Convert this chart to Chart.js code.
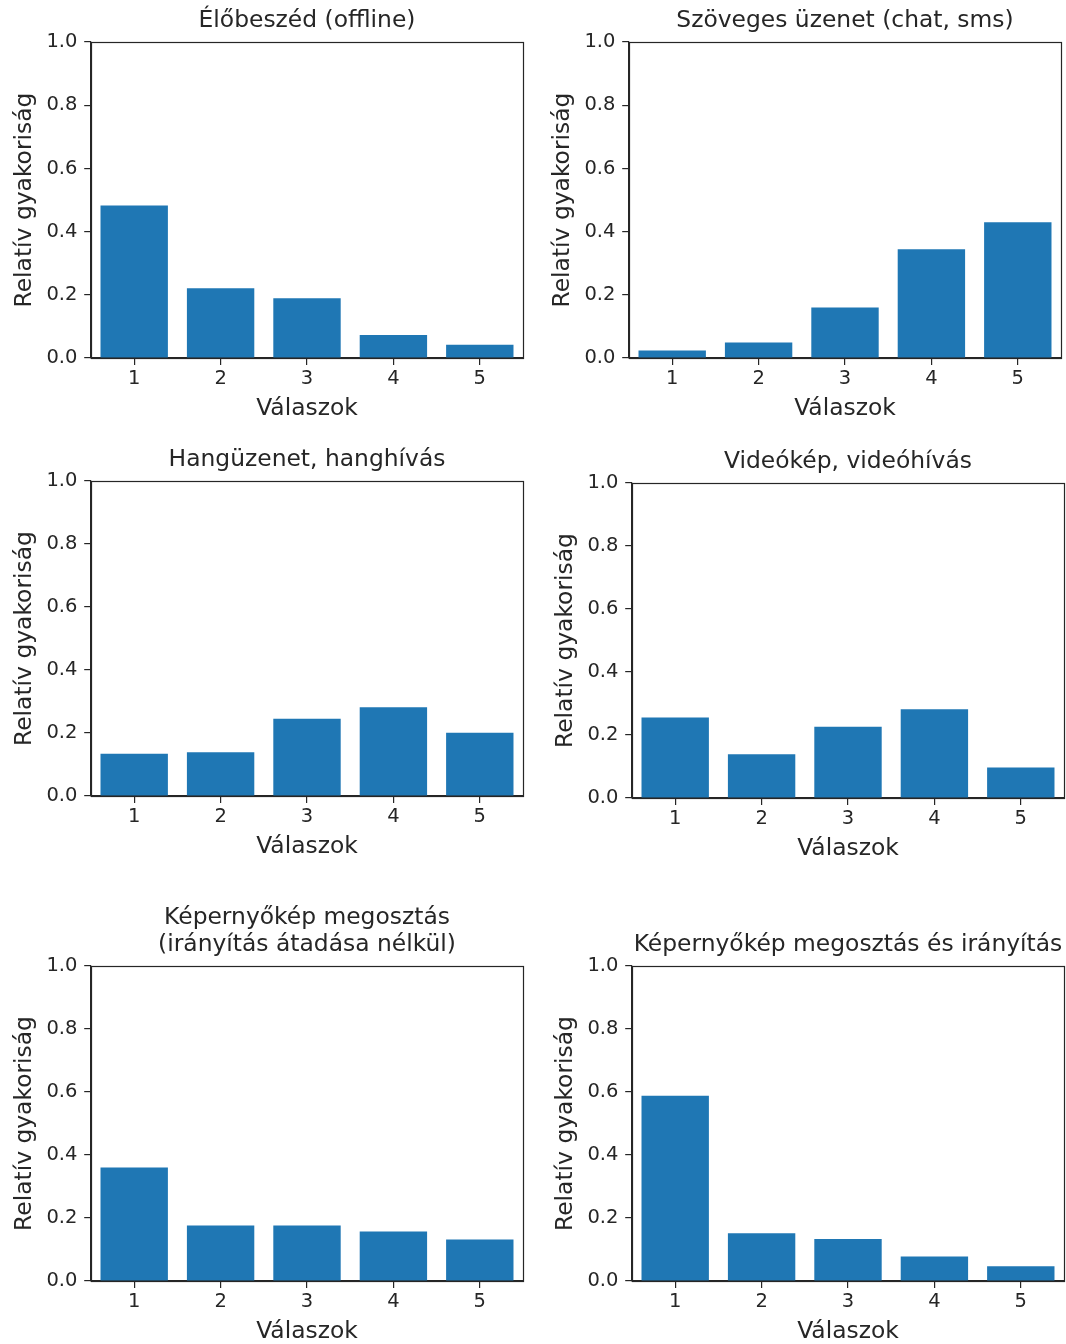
<!DOCTYPE html>
<html>
<head>
<meta charset="utf-8">
<script src="https://cdn.jsdelivr.net/npm/chart.js@4.4.1/dist/chart.umd.min.js"></script>
<style>
  html, body { margin: 0; padding: 0; background: #fff; overflow: hidden; }
  body { width: 1066px; height: 1344px; position: relative; }
  canvas { position: absolute; }
</style>
</head>
<body>
<script>
// Válaszok (1-5) és relatív gyakoriságok panelenként
const answers = ['1', '2', '3', '4', '5'];
const yTicks = [0, 0.2, 0.4, 0.6, 0.8, 1.0];

const elobeszed = [0.483, 0.221, 0.189, 0.073, 0.042];
const szoveges = [0.024, 0.049, 0.160, 0.344, 0.430];
const hanguzenet = [0.134, 0.139, 0.245, 0.282, 0.201];
const videokep = [0.256, 0.139, 0.226, 0.282, 0.097];
const kepernyoMegosztas = [0.360, 0.176, 0.176, 0.157, 0.132];
const kepernyoIranyitas = [0.588, 0.152, 0.133, 0.078, 0.047];

const titles = [
    'Élőbeszéd (offline)',
    'Szöveges üzenet (chat, sms)',
    'Hangüzenet, hanghívás',
    'Videókép, videóhívás',
    ['Képernyőkép megosztás', '(irányítás átadása nélkül)'],
    'Képernyőkép megosztás és irányítás'
];
const xLabel = 'Válaszok';
const yLabel = 'Relatív gyakoriság';

const BLUE = '#1f77b4';
const INK = '#262626';
const FONT = 'DejaVu Sans';
const BIG = 23.4;   // cím, tengelyfeliratok
const SMALL = 19.5; // osztásfeliratok

// plot area of each subplot (left, top, height); width is 432 everywhere
const layout = [
    { L: 91, T: 42, H: 316, data: elobeszed },
    { L: 629, T: 42, H: 316, data: szoveges },
    { L: 91, T: 481, H: 315, data: hanguzenet },
    { L: 632, T: 483, H: 315, data: videokep },
    { L: 91, T: 966, H: 315, data: kepernyoMegosztas },
    { L: 632, T: 966, H: 315, data: kepernyoIranyitas }
];

// keret az ábra körül (matplotlib spines)
const frame = {
    id: 'frame',
    afterDraw(chart) {
        const a = chart.chartArea;
        const ctx = chart.ctx;
        ctx.save();
        ctx.strokeStyle = INK;
        ctx.lineWidth = 1.2;
        ctx.strokeRect(Math.round(a.left) + 0.5, Math.round(a.top) + 0.5,
            Math.round(a.right - a.left), Math.round(a.bottom - a.top));
        ctx.restore();
    }
};

layout.forEach((p, i) => {
    const twoLines = Array.isArray(titles[i]);
    const topH = twoLines ? 80 : 50;
    const W = 432;
    const canvas = document.createElement('canvas');
    canvas.width = 91 + W + 6;
    canvas.height = topH + p.H + 70;
    canvas.style.left = (p.L - 91) + 'px';
    canvas.style.top = (p.T - topH) + 'px';
    document.body.appendChild(canvas);

    new Chart(canvas, {
        type: 'bar',
        data: {
            labels: answers,
            datasets: [{
                data: p.data,
                backgroundColor: BLUE,
                borderWidth: 0,
                categoryPercentage: 1,
                barPercentage: 0.78
            }]
        },
        options: {
            responsive: false,
            animation: false,
            events: [],
            layout: { padding: { left: 0, right: 6, top: 0, bottom: 0 } },
            plugins: {
                legend: { display: false },
                tooltip: { enabled: false },
                title: {
                    display: true,
                    text: titles[i],
                    fullSize: false,
                    color: INK,
                    font: { family: FONT, size: BIG, weight: 'normal', lineHeight: twoLines ? 1.15 : 1.2 },
                    padding: twoLines ? { top: 18.6, bottom: 7.6 } : { top: 15, bottom: 7 }
                }
            },
            scales: {
                x: {
                    type: 'category',
                    offset: true,
                    grid: { display: true, drawOnChartArea: false, offset: false, tickLength: 7, color: INK, lineWidth: 1.2 },
                    border: { display: true, color: INK, width: 1.2 },
                    ticks: { color: INK, padding: 2.3, maxRotation: 0, font: { family: FONT, size: SMALL } },
                    title: {
                        display: true, text: xLabel, color: INK,
                        font: { family: FONT, size: BIG, lineHeight: 1.2 },
                        padding: { top: 0, bottom: 5 }
                    },
                    afterFit(scale) { scale.height = 70; }
                },
                y: {
                    min: 0,
                    max: 1,
                    afterBuildTicks(scale) { scale.ticks = yTicks.map(v => ({ value: v })); },
                    grid: { display: true, drawOnChartArea: false, tickLength: 6.8, color: INK, lineWidth: 1.2 },
                    border: { display: true, color: INK, width: 1.2 },
                    ticks: {
                        color: INK, padding: 6.8,
                        font: { family: FONT, size: SMALL },
                        callback: v => Number(v).toFixed(1)
                    },
                    title: {
                        display: true, text: yLabel, color: INK,
                        font: { family: FONT, size: BIG, lineHeight: 1.2 },
                        padding: { top: 11, bottom: 0 }
                    },
                    afterFit(scale) { scale.width = 91; }
                }
            }
        },
        plugins: [frame]
    });
});
</script>
</body>
</html>
